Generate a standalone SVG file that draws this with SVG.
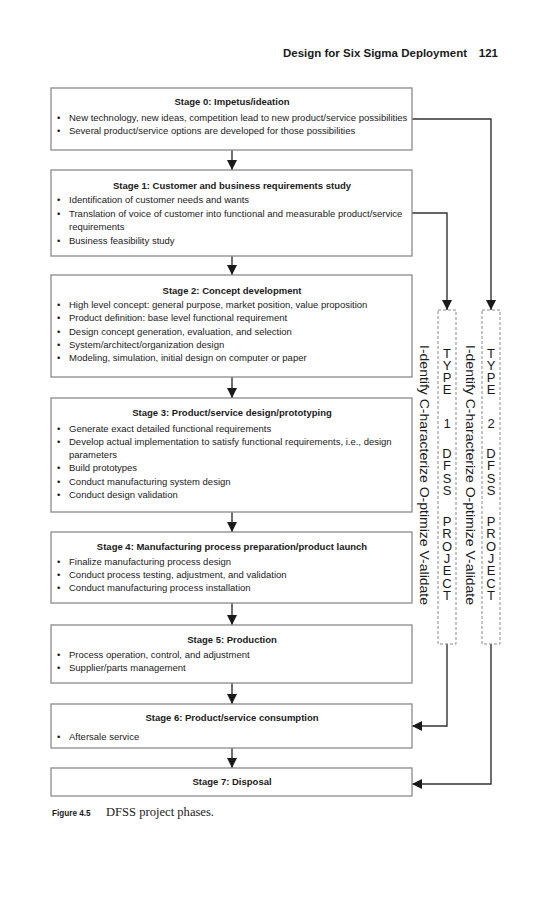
<svg xmlns="http://www.w3.org/2000/svg" width="550" height="900" viewBox="0 0 550 900">
<style>
.box{fill:#fff;stroke:#8a8a8a;stroke-width:1.3}
.t{font-family:"Liberation Sans",Arial,sans-serif;font-size:9.5px;fill:#1a1a1a}
.h{font-family:"Liberation Sans",Arial,sans-serif;font-size:9.5px;font-weight:bold;fill:#1a1a1a;text-anchor:middle}
.c{fill:none;stroke:#333;stroke-width:1.4}
.d{fill:none;stroke:#8a8a8a;stroke-width:1;stroke-dasharray:3,2}
.v{font-family:"Liberation Sans",Arial,sans-serif;font-size:13.5px;fill:#1a1a1a}
.s{font-family:"Liberation Sans",Arial,sans-serif;font-size:13px;fill:#1a1a1a;text-anchor:middle}
</style>
<defs>
<marker id="a" viewBox="0 0 10 10" refX="10" refY="5" markerWidth="10" markerHeight="10" markerUnits="userSpaceOnUse" orient="auto"><path d="M0,0L10,5L0,10z" fill="#1a1a1a"/></marker>
</defs>
<text x="467" y="57" font-family="Liberation Sans,Arial,sans-serif" font-size="11.5" font-weight="bold" text-anchor="end" fill="#1a1a1a">Design for Six Sigma Deployment</text>
<text x="498" y="57" font-family="Liberation Sans,Arial,sans-serif" font-size="11.5" font-weight="bold" text-anchor="end" fill="#1a1a1a">121</text>
<g id="connectors">
<path class="c" d="M232,150V170" marker-end="url(#a)"/>
<path class="c" d="M232,256V275" marker-end="url(#a)"/>
<path class="c" d="M232,377V398" marker-end="url(#a)"/>
<path class="c" d="M232,512V532" marker-end="url(#a)"/>
<path class="c" d="M232,603V625" marker-end="url(#a)"/>
<path class="c" d="M232,683V704" marker-end="url(#a)"/>
<path class="c" d="M232,748V768" marker-end="url(#a)"/>
<path class="c" d="M412,119H491V310" marker-end="url(#a)"/>
<path class="c" d="M412,213H447V310" marker-end="url(#a)"/>
<path class="c" d="M447,644V726H412" marker-end="url(#a)"/>
<path class="c" d="M491,644V784H412" marker-end="url(#a)"/>
</g>
<g id="stage0">
<rect class="box" x="51" y="88" width="361" height="62"/>
<text class="h" x="232" y="105">Stage 0: Impetus/ideation</text>
<text class="t" x="57" y="121">•</text><text class="t" x="69" y="121">New technology, new ideas, competition lead to new product/service possibilities</text>
<text class="t" x="57" y="134">•</text><text class="t" x="69" y="134">Several product/service options are developed for those possibilities</text>
</g>
<g id="stage1">
<rect class="box" x="51" y="170" width="361" height="86"/>
<text class="h" x="232" y="189">Stage 1: Customer and business requirements study</text>
<text class="t" x="57" y="203">•</text><text class="t" x="69" y="203">Identification of customer needs and wants</text>
<text class="t" x="57" y="217">•</text><text class="t" x="69" y="217">Translation of voice of customer into functional and measurable product/service</text>
<text class="t" x="69" y="230">requirements</text>
<text class="t" x="57" y="244">•</text><text class="t" x="69" y="244">Business feasibility study</text>
</g>
<g id="stage2">
<rect class="box" x="51" y="275" width="361" height="102"/>
<text class="h" x="232" y="294">Stage 2: Concept development</text>
<text class="t" x="57" y="308">•</text><text class="t" x="69" y="308">High level concept:  general purpose, market position, value proposition</text>
<text class="t" x="57" y="321">•</text><text class="t" x="69" y="321">Product definition: base level functional requirement</text>
<text class="t" x="57" y="335">•</text><text class="t" x="69" y="335">Design concept generation, evaluation, and selection</text>
<text class="t" x="57" y="348">•</text><text class="t" x="69" y="348">System/architect/organization design</text>
<text class="t" x="57" y="361">•</text><text class="t" x="69" y="361">Modeling, simulation, initial design on computer or paper</text>
</g>
<g id="stage3">
<rect class="box" x="51" y="398" width="361" height="114"/>
<text class="h" x="232" y="416">Stage 3: Product/service design/prototyping</text>
<text class="t" x="57" y="432">•</text><text class="t" x="69" y="432">Generate exact detailed functional requirements</text>
<text class="t" x="57" y="445">•</text><text class="t" x="69" y="445">Develop actual implementation to satisfy functional requirements, i.e., design</text>
<text class="t" x="69" y="458">parameters</text>
<text class="t" x="57" y="471">•</text><text class="t" x="69" y="471">Build prototypes</text>
<text class="t" x="57" y="485">•</text><text class="t" x="69" y="485">Conduct manufacturing system design</text>
<text class="t" x="57" y="498">•</text><text class="t" x="69" y="498">Conduct design validation</text>
</g>
<g id="stage4">
<rect class="box" x="51" y="532" width="361" height="71"/>
<text class="h" x="232" y="550">Stage 4: Manufacturing process preparation/product launch</text>
<text class="t" x="57" y="565">•</text><text class="t" x="69" y="565">Finalize manufacturing process design</text>
<text class="t" x="57" y="578">•</text><text class="t" x="69" y="578">Conduct process testing, adjustment, and validation</text>
<text class="t" x="57" y="591">•</text><text class="t" x="69" y="591">Conduct manufacturing process installation</text>
</g>
<g id="stage5">
<rect class="box" x="51" y="625" width="361" height="58"/>
<text class="h" x="232" y="643">Stage 5: Production</text>
<text class="t" x="57" y="658">•</text><text class="t" x="69" y="658">Process operation, control, and adjustment</text>
<text class="t" x="57" y="671">•</text><text class="t" x="69" y="671">Supplier/parts management</text>
</g>
<g id="stage6">
<rect class="box" x="51" y="704" width="361" height="44"/>
<text class="h" x="232" y="721">Stage 6: Product/service consumption</text>
<text class="t" x="57" y="740">•</text><text class="t" x="69" y="740">Aftersale service</text>
</g>
<g id="stage7">
<rect class="box" x="51" y="768" width="361" height="28"/>
<text class="h" x="232" y="785">Stage 7: Disposal</text>
</g>
<g id="type1">
<rect class="d" x="438" y="310" width="18" height="334"/>
<text class="s" x="447 447 447 447 447 447 447 447 447 447 447 447 447 447 447 447 447 447 447" y="357.5 369.8 382.1 394.4 411 428 443 458 470.3 482.6 494.9 510 526 538.3 550.6 562.9 575.2 587.5 599.8">TYPE 1 DFSS PROJECT</text>
<text class="v" transform="translate(420,345) rotate(90)" textLength="260" lengthAdjust="spacingAndGlyphs">I-dentify C-haracterize O-ptimize V-alidate</text>
</g>
<g id="type2">
<rect class="d" x="482" y="310" width="18" height="334"/>
<text class="s" x="491 491 491 491 491 491 491 491 491 491 491 491 491 491 491 491 491 491 491" y="357.5 369.8 382.1 394.4 411 428 443 458 470.3 482.6 494.9 510 526 538.3 550.6 562.9 575.2 587.5 599.8">TYPE 2 DFSS PROJECT</text>
<text class="v" transform="translate(466,345) rotate(90)" textLength="260" lengthAdjust="spacingAndGlyphs">I-dentify C-haracterize O-ptimize V-alidate</text>
</g>
<text x="52" y="816" font-family="Liberation Sans,Arial,sans-serif" font-size="8.2" font-weight="bold" fill="#1a1a1a">Figure 4.5</text>
<text x="106" y="816" font-family="Liberation Serif,serif" font-size="11.5" fill="#1a1a1a" textLength="108" lengthAdjust="spacingAndGlyphs">DFSS project phases.</text>
</svg>
